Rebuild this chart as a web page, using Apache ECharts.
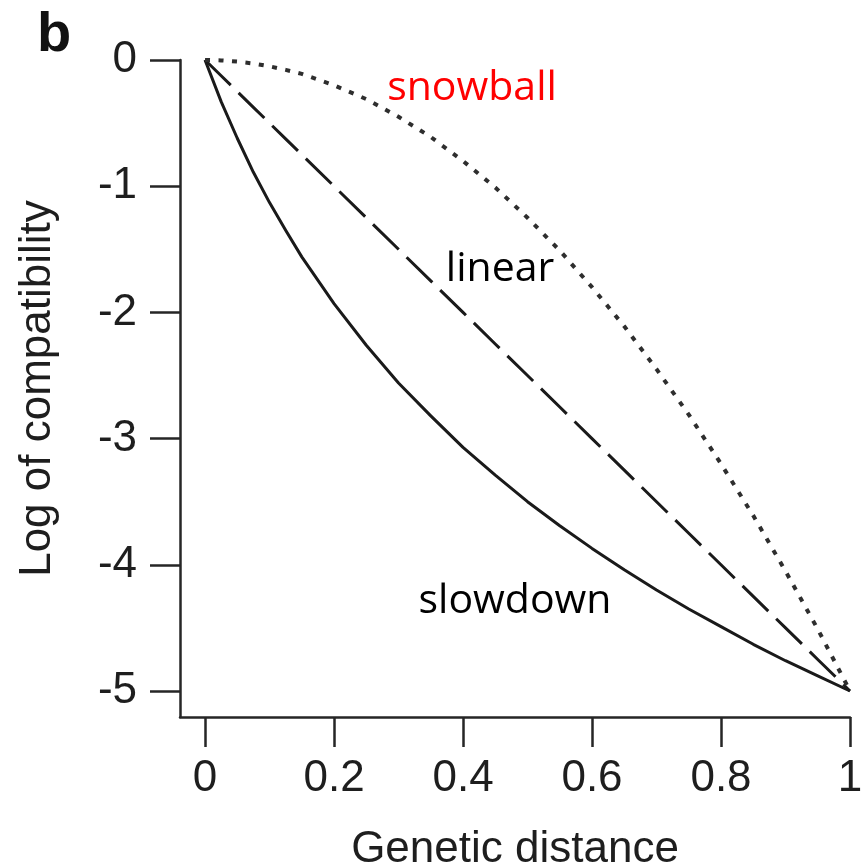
<!DOCTYPE html>
<html>
<head>
<meta charset="utf-8">
<script src="https://cdn.jsdelivr.net/npm/echarts@6/dist/echarts.min.js"></script>
<style>
  html, body { margin: 0; padding: 0; background: #ffffff; }
  #chart { width: 865px; height: 866px; }
</style>
</head>
<body>
<div id="chart"></div>
<script>
// Genetic distance sampled along the x axis
const distance = [0, 0.025, 0.05, 0.075, 0.1, 0.125, 0.15, 0.2, 0.25, 0.3, 0.35, 0.4,
  0.45, 0.5, 0.55, 0.6, 0.65, 0.7, 0.75, 0.8, 0.85, 0.9, 0.95, 1];

// Log of compatibility for the three models
const slowdown = [0, -0.33, -0.62, -0.89, -1.13, -1.35, -1.56, -1.93, -2.26, -2.56, -2.82, -3.07,
  -3.29, -3.50, -3.69, -3.87, -4.04, -4.20, -4.35, -4.49, -4.63, -4.76, -4.88, -5];
const linear = [0, -0.125, -0.25, -0.375, -0.5, -0.625, -0.75, -1, -1.25, -1.5, -1.75, -2,
  -2.25, -2.5, -2.75, -3, -3.25, -3.5, -3.75, -4, -4.25, -4.5, -4.75, -5];
const snowball = [0, -0.003, -0.013, -0.028, -0.05, -0.078, -0.11, -0.2, -0.31, -0.45, -0.61, -0.8,
  -1.01, -1.25, -1.51, -1.8, -2.11, -2.45, -2.81, -3.2, -3.61, -4.05, -4.51, -5];

// Tick positions
const xTicks = [0, 0.2, 0.4, 0.6, 0.8, 1];
const yTicks = [0, -1, -2, -3, -4, -5];

// Axis ranges (the frame sits a little outside the data range, R style)
const X_MIN = -0.0388, X_MAX = 1;
const Y_MIN = -5.206, Y_MAX = 0;

const pairs = ys => distance.map((x, i) => [x, ys[i]]);

const axisColor = '#262626';
const textColor = '#1e1e1e';
const tickFont = { fontFamily: 'Liberation Sans, Arial, sans-serif', fontSize: 44, color: textColor };

const chart = echarts.init(document.getElementById('chart'), null, { renderer: 'canvas' });

chart.setOption({
  backgroundColor: '#ffffff',
  animation: false,
  grid: { left: 180, right: 15, top: 60, bottom: 149, containLabel: false, outerBoundsMode: 'none' },
  xAxis: {
    type: 'value',
    min: X_MIN, max: X_MAX,
    name: 'Genetic distance',
    nameLocation: 'middle',
    nameGap: 111,
    nameTextStyle: tickFont,
    axisLine: { show: true, onZero: false, lineStyle: { color: axisColor, width: 2.5 } },
    axisTick: { show: true, length: 30, customValues: xTicks, lineStyle: { color: axisColor, width: 2.5 } },
    axisLabel: { customValues: xTicks, margin: 40, ...tickFont,
      formatter: v => String(Math.round(v * 10) / 10) },
    splitLine: { show: false }
  },
  yAxis: {
    type: 'value',
    min: Y_MIN, max: Y_MAX,
    name: 'Log of compatibility',
    nameLocation: 'middle',
    nameRotate: 90,
    nameGap: 120,
    nameTextStyle: tickFont,
    axisLine: { show: true, onZero: false, lineStyle: { color: axisColor, width: 2.5 } },
    axisTick: { show: true, length: 30, customValues: yTicks, lineStyle: { color: axisColor, width: 2.5 } },
    axisLabel: { customValues: yTicks, margin: 43, ...tickFont, formatter: v => String(Math.round(v)) },
    splitLine: { show: false }
  },
  series: [
    {
      name: 'slowdown', type: 'line', data: pairs(slowdown),
      showSymbol: false,
      lineStyle: { color: '#1a1a1a', width: 3, type: 'solid', join: 'round' }
    },
    {
      name: 'linear', type: 'line', data: pairs(linear),
      showSymbol: false,
      lineStyle: { color: '#1a1a1a', width: 3, type: [36, 11], cap: 'butt' }
    },
    {
      name: 'snowball', type: 'line', data: pairs(snowball),
      showSymbol: false,
      lineStyle: { color: '#2e2e2e', width: 4, type: [5, 8.5], cap: 'butt' }
    }
  ],
  graphic: [
    { type: 'text', left: 37, top: 8,
      style: { text: 'b', font: 'bold 56px "Liberation Sans", Arial, sans-serif', fill: '#111' } },
    { type: 'text', x: 472, y: 88,
      style: { text: 'snowball', font: '41px "Open Sans", sans-serif', fill: '#ff0000',
        align: 'center', verticalAlign: 'middle' } },
    { type: 'text', x: 500, y: 269,
      style: { text: 'linear', font: '41px "Open Sans", sans-serif', fill: '#000000',
        align: 'center', verticalAlign: 'middle' } },
    { type: 'text', x: 515, y: 601,
      style: { text: 'slowdown', font: '41px "Open Sans", sans-serif', fill: '#000000',
        align: 'center', verticalAlign: 'middle' } }
  ]
});
</script>
</body>
</html>
